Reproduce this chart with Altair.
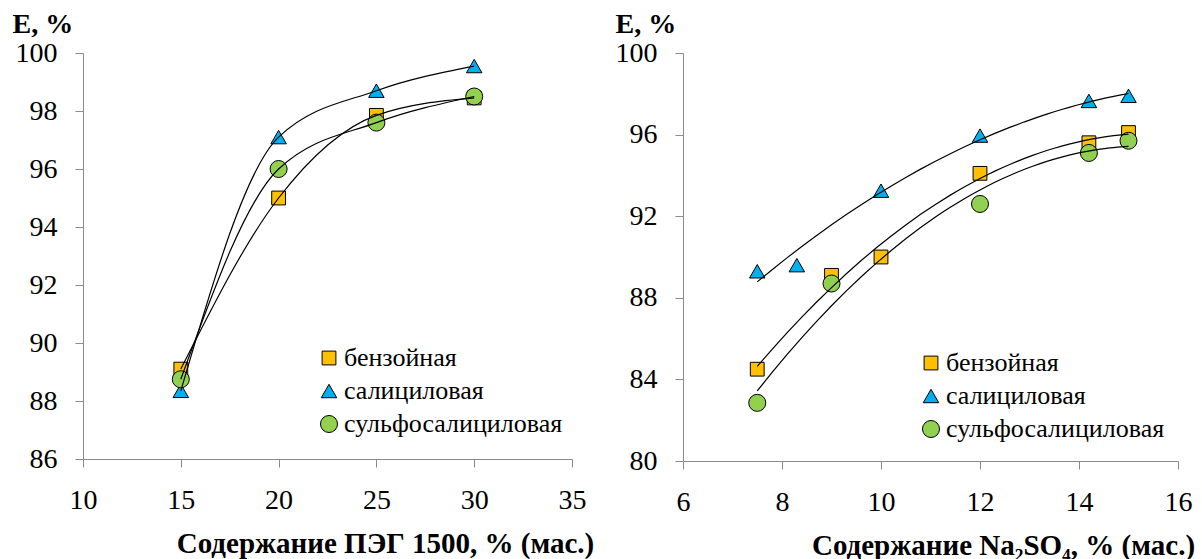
import altair as alt
import pandas as pd

SERIES = ["бензойная", "салициловая", "сульфосалициловая"]
COLORS = ["#FFC000", "#00B0F0", "#92D050"]
SHAPES = ["square", "triangle-up", "circle"]
SIZES = [190, 290, 215]

# Extraction degree vs PEG 1500 content
peg_x = [15, 20, 25, 30]
peg_benz = [89.1, 95.0, 97.85, 98.45]
peg_sal = [88.35, 97.1, 98.7, 99.55]
peg_sulf = [88.75, 96.0, 97.6, 98.5]

# Extraction degree vs Na2SO4 content
na_benz_x = [7.5, 9, 10, 12, 14.2, 15]
na_benz_y = [84.5, 89.1, 90.0, 94.1, 95.6, 96.1]
na_sal_x = [7.5, 8.3, 10, 12, 14.2, 15]
na_sal_y = [89.3, 89.6, 93.25, 95.95, 97.65, 97.9]
na_sulf_x = [7.5, 9, 12, 14.2, 15]
na_sulf_y = [82.85, 88.7, 92.6, 95.1, 95.7]


def frame(pairs):
    rows = []
    for name, xs, ys in pairs:
        rows += [{"series": name, "x": a, "y": b} for a, b in zip(xs, ys)]
    return pd.DataFrame(rows)


peg_df = frame([
    (SERIES[0], peg_x, peg_benz),
    (SERIES[1], peg_x, peg_sal),
    (SERIES[2], peg_x, peg_sulf),
])
na_df = frame([
    (SERIES[0], na_benz_x, na_benz_y),
    (SERIES[1], na_sal_x, na_sal_y),
    (SERIES[2], na_sulf_x, na_sulf_y),
])

FONT = "Liberation Serif"
AXIS_GREY = "#8a8a8a"


def panel(df, xdom, xticks, ydom, yticks, trend_kind, w, h, xtitle, xtitle_x,
          ytitle_x, legend_x, legend_y):
    x = alt.X(
        "x:Q",
        scale=alt.Scale(domain=xdom, nice=False, zero=False),
        axis=alt.Axis(
            values=xticks, title=xtitle, titleX=xtitle_x, titleY=93,
            titleAlign="center", titleBaseline="alphabetic",
            labelPadding=19, labelFont=FONT, titleFont=FONT,
        ),
    )
    y = alt.Y(
        "y:Q",
        scale=alt.Scale(domain=ydom, nice=False, zero=False),
        axis=alt.Axis(
            values=yticks, title="E, %", titleAngle=0, titleAlign="left",
            titleBaseline="alphabetic", titleX=ytitle_x, titleY=-21,
            titleFontSize=28, labelPadding=18, labelFont=FONT, titleFont=FONT,
        ),
    )
    points = alt.Chart(df).mark_point(
        filled=True, opacity=1, stroke="black", strokeWidth=1
    ).encode(
        x=x,
        y=y,
        color=alt.Color(
            "series:N",
            scale=alt.Scale(domain=SERIES, range=COLORS),
            legend=alt.Legend(
                title=None, orient="none", legendX=legend_x, legendY=legend_y,
                labelFont=FONT, labelLimit=400,
            ),
        ),
        shape=alt.Shape("series:N", scale=alt.Scale(domain=SERIES, range=SHAPES)),
        size=alt.Size("series:N", scale=alt.Scale(domain=SERIES, range=SIZES),
                      legend=None),
    )
    if trend_kind == "smooth":
        trend = alt.Chart(df).mark_line(
            color="black", strokeWidth=1.2, interpolate="monotone"
        ).encode(x="x:Q", y="y:Q", detail="series:N")
    else:
        trend = alt.Chart(df).transform_regression(
            "x", "y", method="poly", order=2, groupby=["series"]
        ).mark_line(color="black", strokeWidth=1.2).encode(
            x="x:Q", y="y:Q", detail="series:N"
        )
    return alt.layer(points, trend).properties(width=w, height=h)


left = panel(
    peg_df, [10, 35], [10, 15, 20, 25, 30, 35], [86, 100],
    [86, 88, 90, 92, 94, 96, 98, 100], "smooth", 489, 406,
    "Содержание ПЭГ 1500, % (мас.)", 302, -71, 233, 292,
)
right = panel(
    na_df, [6, 16], [6, 8, 10, 12, 14, 16], [80, 100],
    [80, 84, 88, 92, 96, 100], "quad", 495, 408,
    "Содержание Na₂SO₄, % (мас.)", 320, -68, 235, 297,
)

chart = alt.hconcat(left, right, spacing=111, bounds="flush").resolve_scale(
    color="independent", shape="independent", size="independent"
).resolve_legend(
    color="independent", shape="independent"
).properties(
    padding={"left": 12, "top": 10, "right": 0, "bottom": 0}
).configure(
    font=FONT
).configure_view(
    stroke=None
).configure_axis(
    grid=False,
    domainColor=AXIS_GREY,
    tickColor=AXIS_GREY,
    tickSize=8,
    labelFont=FONT,
    labelFontSize=28,
    labelColor="black",
    labelFlush=False,
    labelOverlap=False,
    titleFont=FONT,
    titleFontSize=29,
    titleFontWeight="bold",
    titleColor="black",
).configure_legend(
    labelFont=FONT,
    labelFontSize=26,
    labelColor="black",
    labelLimit=400,
    symbolSize=190,
    symbolStrokeColor="black",
    symbolStrokeWidth=1,
    rowPadding=7,
    labelOffset=2,
    padding=0,
)

chart.save("out.html", embed_options={"renderer": "svg", "actions": False})
